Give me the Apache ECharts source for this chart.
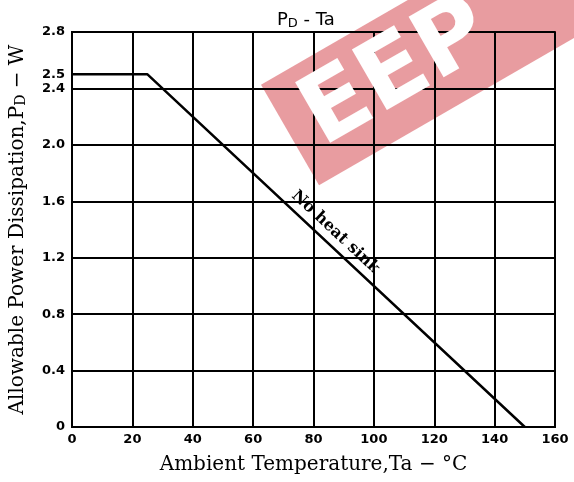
<!DOCTYPE html>
<html>
<head>
<meta charset="utf-8">
<script src="https://cdn.jsdelivr.net/npm/echarts@6/dist/echarts.min.js"></script>
<style>
  html,body{margin:0;padding:0;background:#fff;}
  #chart{width:574px;height:482px;}
</style>
</head>
<body>
<div id="chart"></div>
<script>
// derating curve, no heat sink
const temps = [0, 25, 150]
const power = [2.5, 2.5, 0]
// axis labels
const xTicks = [0, 20, 40, 60, 80, 100, 120, 140, 160]
const yTicks = [0, 0.4, 0.8, 1.2, 1.6, 2.0, 2.4, 2.5, 2.8]

const chart = echarts.init(document.getElementById('chart'))
const tickFont = {color:'#000', fontFamily:'DejaVu Sans', fontWeight:'bold', fontSize:13}
const nameFont = {color:'#000', fontFamily:'DejaVu Serif', fontSize:20}

let option = {
  animation:false,
  title:{
    left:272,
    top:6,
    text:'{a|P}{s|D}{a| - Ta}',
    textStyle:{
      rich:{
        a:{fontFamily:'DejaVu Sans', fontSize:18, fontWeight:'normal', color:'#000'},
        s:{fontFamily:'DejaVu Sans', fontSize:13, fontWeight:'normal', color:'#000', padding:[6,0,0,0]}
      }
    }
  },
  // watermark band
  graphic:[{
    type:'group',
    x:290, y:135,
    rotation:Math.PI/6,
    children:[
      {type:'rect', shape:{x:0, y:-58, width:420, height:116}, style:{fill:'rgba(205,35,45,0.45)'}},
      {type:'text', z:1, x:22, y:2, style:{text:'EEP', fill:'#fff', font:'bold 96px "DejaVu Sans"', verticalAlign:'middle'}}
    ]
  }],
  grid:{
    left:72, right:19, top:32, bottom:55,
    show:true, borderColor:'#000', borderWidth:2,
    outerBoundsMode:'none'
  },
  xAxis:{
    type:'value',
    min:0, max:160, interval:20,
    name:'Ambient Temperature,Ta − °C',
    nameLocation:'middle',
    nameGap:28,
    nameTextStyle:nameFont,
    axisLine:{lineStyle:{color:'#000', width:2}},
    axisTick:{show:false},
    axisLabel:Object.assign({margin:6, customValues:xTicks}, tickFont),
    splitLine:{lineStyle:{color:'#000', width:2}}
  },
  yAxis:{
    type:'value',
    min:0, max:2.8, interval:0.4,
    name:'{a|Allowable Power Dissipation,P}{s|D}{a| − W}',
    nameLocation:'middle',
    nameGap:44,
    nameTextStyle:{
      rich:{
        a:nameFont,
        s:{color:'#000', fontFamily:'DejaVu Serif', fontSize:14, padding:[7,0,0,0]}
      }
    },
    axisLine:{lineStyle:{color:'#000', width:2}},
    axisTick:{show:false},
    axisLabel:Object.assign({
      margin:7,
      customValues:yTicks,
      formatter:v=>v===0?'0':v.toFixed(1)
    }, tickFont),
    splitLine:{lineStyle:{color:'#000', width:2}}
  },
  series:[{
    type:'line',
    data:temps.map((t,i)=>[t,power[i]]),
    symbol:'none',
    lineStyle:{color:'#000', width:2.5},
    markLine:{
      silent:true,
      symbol:'none',
      lineStyle:{color:'rgba(0,0,0,0)', width:0},
      label:{
        show:true,
        position:'insideMiddleTop',
        distance:5,
        padding:[0,26,0,0],
        formatter:'No heat sink',
        color:'#000',
        fontFamily:'DejaVu Serif',
        fontWeight:'bold',
        fontSize:16
      },
      data:[[{coord:[temps[1],power[1]]},{coord:[temps[2],power[2]]}]]
    }
  }]
}
chart.setOption(option)
</script>
</body>
</html>
